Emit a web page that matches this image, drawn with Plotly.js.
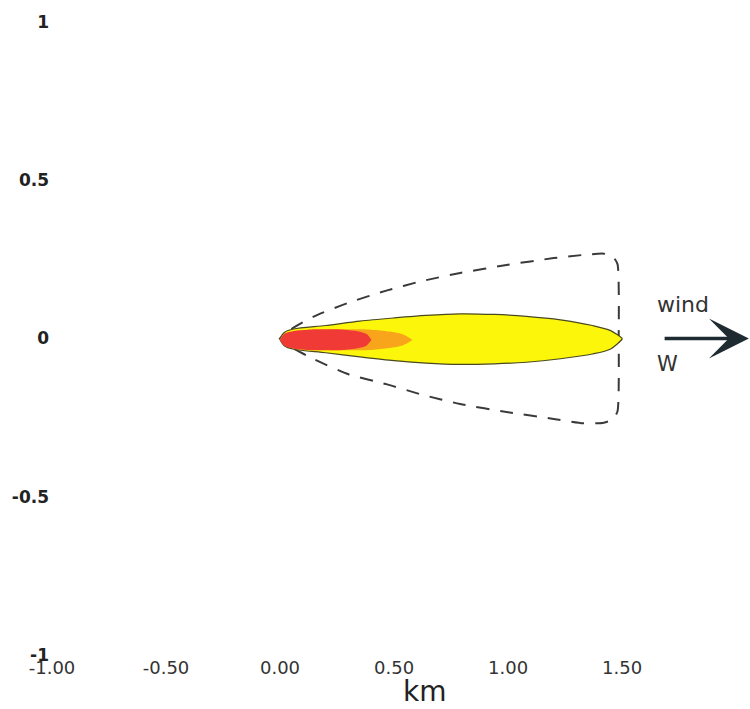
<!DOCTYPE html>
<html>
<head>
<meta charset="utf-8">
<script src="https://cdn.plot.ly/plotly-3.0.1.min.js"></script>
<style>html,body{margin:0;padding:0;background:#fff;}#chart{width:750px;height:709px;}</style>
</head>
<body>
<div id="chart"></div>
<script>
// ---- data (km) ----
const xTickVals = [-1, -0.5, 0, 0.5, 1, 1.5];
const xTickText = ["-1.00", "-0.50", "0.00", "0.50", "1.00", "1.50"];
const yTickVals = [1, 0.5, 0, -0.5, -1];
const yTickText = ["1", "0.5", "0", "-0.5", "-1"];

// confidence lines (dashed)
const confX      = [0, 0.05, 0.15, 0.30, 0.47, 0.62, 0.79, 1.00, 1.20, 1.33, 1.42, 1.46, 1.48, 1.485];
const confTop    = [0, 0.030, 0.070, 0.113, 0.152, 0.181, 0.207, 0.233, 0.254, 0.264, 0.268, 0.258, 0.235, 0.0];
const confBottom = [0, -0.028, -0.066, -0.113, -0.145, -0.177, -0.207, -0.233, -0.254, -0.268, -0.266, -0.255, -0.230, 0.0];

// yellow zone
const yellowX      = [0, 0.02, 0.06, 0.20, 0.35, 0.50, 0.64, 0.79, 0.94, 1.08, 1.23, 1.37, 1.45, 1.50];
const yellowTop    = [0, 0.020, 0.030, 0.041, 0.055, 0.065, 0.073, 0.078, 0.076, 0.070, 0.059, 0.041, 0.025, 0];
const yellowBottom = [-0.003, -0.024, -0.034, -0.045, -0.058, -0.070, -0.078, -0.082, -0.080, -0.075, -0.064, -0.049, -0.033, -0.002];

// orange zone
const orangeX      = [0, 0.03, 0.10, 0.20, 0.30, 0.40, 0.48, 0.54, 0.58];
const orangeTop    = [-0.003, 0.016, 0.024, 0.028, 0.029, 0.028, 0.022, 0.013, -0.004];
const orangeBottom = [-0.004, -0.024, -0.032, -0.036, -0.037, -0.036, -0.030, -0.021, -0.005];

// red zone
const redX      = [0, 0.02, 0.06, 0.12, 0.20, 0.28, 0.34, 0.38, 0.40];
const redTop    = [-0.003, 0.016, 0.024, 0.028, 0.029, 0.028, 0.023, 0.014, -0.004];
const redBottom = [-0.004, -0.024, -0.032, -0.036, -0.037, -0.036, -0.031, -0.022, -0.005];

// wind arrow & labels
const windTail = [1.68, 0];
const windHead = [2.056, 0];
const windLabel = "wind";
const windLabelPos = [1.768, 0.108];
const dirLabel = "W";
const dirLabelPos = [1.697, -0.081];
const axisLabel = "km";

function polygon(xs, top, bottom) {
  const px = xs.concat(xs.slice().reverse());
  const py = top.concat(bottom.slice().reverse());
  px.push(xs[0]); py.push(top[0]);
  return {x: px, y: py};
}

const conf = polygon(confX, confTop, confBottom);
const yel = polygon(yellowX, yellowTop, yellowBottom);
const ora = polygon(orangeX, orangeTop, orangeBottom);
const red = polygon(redX, redTop, redBottom);

const traces = [
  {x: conf.x, y: conf.y, mode: 'lines', type: 'scatter', hoverinfo: 'skip',
   line: {color: '#3a3a3a', width: 2, dash: '13px,11px', shape: 'spline', smoothing: 0.6}},
  {x: yel.x, y: yel.y, mode: 'lines', type: 'scatter', fill: 'toself', fillcolor: '#fcf60a',
   line: {color: '#4a4a20', width: 1.2, shape: 'spline', smoothing: 0.8}, hoverinfo: 'skip'},
  {x: ora.x, y: ora.y, mode: 'lines', type: 'scatter', fill: 'toself', fillcolor: '#f8a51c',
   line: {color: 'rgba(0,0,0,0)', width: 0, shape: 'spline', smoothing: 0.8}, hoverinfo: 'skip'},
  {x: red.x, y: red.y, mode: 'lines', type: 'scatter', fill: 'toself', fillcolor: '#f03a36',
   line: {color: 'rgba(0,0,0,0)', width: 0, shape: 'spline', smoothing: 0.8}, hoverinfo: 'skip'}
];

const layout = {
  width: 750, height: 709,
  margin: {l: 52, r: 0, t: 22, b: 54},
  paper_bgcolor: '#ffffff', plot_bgcolor: '#ffffff',
  showlegend: false,
  xaxis: {
    range: [-1, 2.061], showgrid: false, zeroline: false, showline: false, ticks: '',
    tickvals: xTickVals, ticktext: xTickText,
    tickfont: {family: 'DejaVu Sans', size: 18, color: '#333'}
  },
  yaxis: {
    range: [-1, 1], showgrid: false, zeroline: false, showline: false, ticks: '',
    tickvals: yTickVals, ticktext: yTickText, ticklabelstandoff: 2,
    tickfont: {family: 'DejaVu Sans', size: 17, color: '#222', weight: 'bold'}
  },
  annotations: [
    {x: windHead[0], y: windHead[1], ax: windTail[0], ay: windTail[1], axref: 'x', ayref: 'y',
     xref: 'x', yref: 'y', text: '', showarrow: true, arrowhead: 3, arrowsize: 1.85, arrowwidth: 3.6,
     arrowcolor: '#1e2b31'},
    {x: windLabelPos[0], y: windLabelPos[1], xref: 'x', yref: 'y', text: windLabel, showarrow: false,
     font: {family: 'DejaVu Sans', size: 22, color: '#333'}},
    {x: dirLabelPos[0], y: dirLabelPos[1], xref: 'x', yref: 'y', text: dirLabel, showarrow: false,
     font: {family: 'DejaVu Sans', size: 21, color: '#333'}},
    {x: 0.534, y: -0.058, xref: 'paper', yref: 'paper', text: axisLabel, showarrow: false,
     xanchor: 'center', yanchor: 'middle', font: {family: 'DejaVu Sans', size: 28, color: '#222'}}
  ]
};

Plotly.newPlot('chart', traces, layout, {staticPlot: true, displayModeBar: false});
</script>
</body>
</html>
